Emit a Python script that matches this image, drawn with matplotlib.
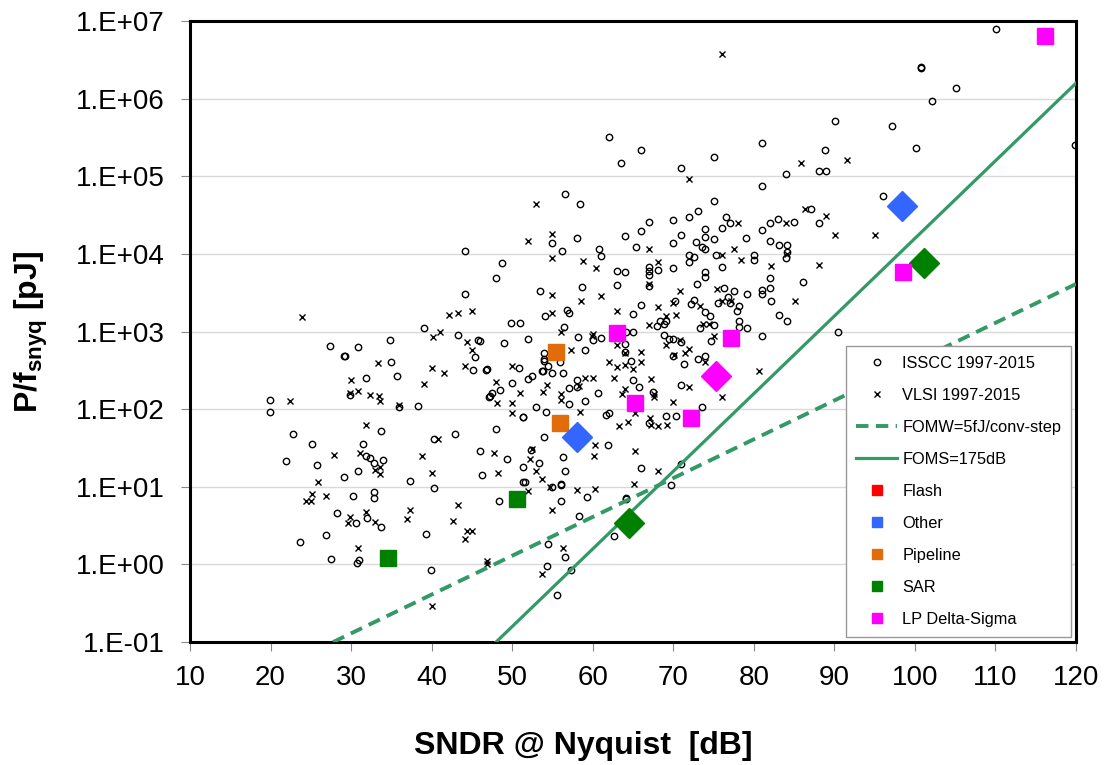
import matplotlib
matplotlib.use("Agg")
import matplotlib.pyplot as plt
from matplotlib.lines import Line2D
from matplotlib.ticker import FuncFormatter, FixedLocator
import numpy as np

plt.rcParams['font.family'] = ['Liberation Sans', 'DejaVu Sans']
plt.rcParams['mathtext.fontset'] = 'custom'
plt.rcParams['mathtext.rm'] = 'Liberation Sans'
plt.rcParams['mathtext.bf'] = 'Liberation Sans:bold'

# ISSCC 1997-2015 (open circles): SNDR [dB], P/fsnyq [pJ]
isscc_sndr = [19.9, 19.9, 22.75, 25.15, 21.9, 25.8, 29.1, 30.2, 28.3, 30.6, 23.7, 26.9, 27.5, 30.7, 31.0,
              39.9, 32.0, 33.7, 39.3, 32.9, 32.9, 30.9, 31.9, 32.4, 32.9, 33.9, 31.5, 33.7, 37.3, 40.3,
              40.3, 42.9, 46.0, 46.3, 27.4, 29.1, 29.3, 30.9, 34.8, 34.9, 31.8, 35.7, 29.9, 36.0, 38.3,
              39.1, 43.3, 45.8, 45.4, 45.1, 46.8, 47.1, 44.1, 44.2,
              66.0, 63.5, 71.0, 75.1, 84.0, 88.1, 89.0, 88.8, 81.0, 56.6, 58.4, 75.0, 73.1, 87.1, 76.5,
              77.0, 72.0, 70.0, 67.0, 74.0, 76.0, 66.0, 81.0, 82.0, 83.0, 85.0, 88.1, 55.0, 58.0, 56.2,
              64.0, 65.4, 70.0, 71.0, 72.8, 74.0, 75.0, 79.0, 82.0, 83.1, 84.1, 84.1, 84.0, 86.1, 80.0,
              80.0, 73.6, 74.0, 75.3, 72.0, 72.0, 72.6, 76.0, 74.0, 74.0, 72.9, 76.3, 77.5, 75.6, 76.8,
              77.0, 78.2, 77.9, 78.2, 78.1, 79.1, 72.6, 72.2, 74.0, 74.6, 75.1, 73.3, 74.7, 74.0, 73.1,
              71.3, 70.9, 73.6, 81.0, 83.1, 84.1, 81.0, 81.0, 82.0, 82.1, 82.0, 79.1, 70.2, 68.3, 69.1,
              68.8, 68.0, 66.0, 65.0, 68.8, 69.5, 70.0, 70.9, 70.0, 70.0, 68.1, 67.0, 67.0, 67.0, 67.0,
              63.0, 64.0, 63.0, 64.1, 65.0, 64.0, 64.0, 64.7, 65.0, 65.7, 67.5, 62.0, 61.6, 67.0, 69.1,
              70.4, 61.9, 66.0, 69.7, 70.9, 64.1, 48.7, 48.0, 60.8, 61.0, 58.7, 53.5, 54.1, 56.8, 57.1,
              49.9, 51.0, 49.0, 52.0, 46.9, 46.0, 48.5, 47.2, 47.5, 50.0, 50.9, 51.3, 52.0, 52.5, 53.7,
              53.8, 53.9, 54.0, 54.0, 55.0, 54.5, 55.9, 56.3, 53.0, 51.4, 48.0, 57.0, 57.1, 54.2, 49.4,
              51.4, 52.3, 53.3, 51.3, 51.6, 53.9, 55.0, 56.0, 56.1, 59.3, 56.6, 56.3, 59.0, 60.0, 61.0,
              56.4, 58.2, 58.0, 58.0, 59.0, 60.6,
              110.1, 100.7, 100.8, 105.1, 102.1, 90.1, 97.1, 100.1, 119.9, 96.1, 90.5, 62.0, 81.0,
              48.4, 56.0, 58.3, 64.1, 62.6, 54.4, 56.6, 54.3, 57.3, 55.6]
isscc_e = [132, 91, 48, 36, 21.4, 19.3, 13.2, 7.6, 4.6, 3.4, 1.93, 2.36, 1.19, 1.05, 1.13,
           0.85, 4.0, 3.0, 2.45, 8.5, 7.1, 16, 24.8, 23.6, 20, 22, 36, 53, 11.9, 9.6,
           41, 48, 29, 14, 645, 487, 487, 630, 780, 410, 250, 266, 151, 107, 110,
           1120, 906, 767, 465, 316, 323, 145, 11000, 3060,
           2.2e5, 1.48e5, 1.28e5, 1.78e5, 1.07e5, 1.18e5, 1.18e5, 2.2e5, 7.4e4, 5.96e4, 4.37e4, 4.75e4, 3.55e4, 3.78e4, 2.98e4,
           2.47e4, 2.95e4, 2.73e4, 2.6e4, 2.1e4, 2.17e4, 2.0e4, 2.06e4, 2.5e4, 2.8e4, 2.57e4, 2.5e4, 1.39e4, 1.6e4, 1.09e4,
           1.68e4, 1.23e4, 1.4e4, 1.76e4, 1.41e4, 1.66e4, 1.55e4, 1.6e4, 1.48e4, 1.3e4, 1.3e4, 1.07e4, 8.9e3, 4.4e3, 9.8e3,
           8.3e3, 1.24e4, 1.15e4, 9.8e3, 9.8e3, 7.9e3, 9.2e3, 6.7e3, 5.9e3, 5.0e3, 4.1e3, 3.6e3, 3.3e3, 2.3e3, 2.75e3,
           2.3e3, 2.15e3, 1.86e3, 1.38e3, 1.13e3, 1.12e3, 2.54e3, 2.24e3, 1.76e3, 1.6e3, 1.22e3, 1.1e3, 750, 487, 440,
           377, 202, 105, 870, 1.62e3, 1.35e3, 3.4e3, 3.0e3, 3.6e3, 2.45e3, 4.9e3, 3.0e3, 2.45e3, 1.38e3, 1.38e3,
           1.24e3, 1.18e3, 2.19e3, 1.66e3, 910, 810, 810, 740, 490, 6.5e3, 6.2e3, 6.7e3, 6.0e3, 5.4e3, 3.8e3,
           6.0e3, 5.9e3, 4.0e3, 1000, 1000, 690, 540, 420, 240, 190, 165, 89, 83, 66, 82,
           82, 34, 17.6, 10.6, 19.5, 7.1, 7.7e3, 4.9e3, 1.15e4, 9.4e3, 3.7e3, 3.3e3, 1.58e3, 1.9e3, 1.74e3,
           1.3e3, 1.3e3, 710, 790, 325, 760, 178, 148, 163, 214, 340, 79, 245, 270, 310,
           310, 446, 420, 525, 295, 355, 405, 295, 107, 79, 56, 186, 115, 91, 23,
           18, 30, 20, 11.5, 11.5, 44, 9.8, 11, 10.5, 7.4, 15.8, 24, 570, 780, 830,
           1150, 850, 240, 195, 128, 162,
           7.95e6, 2.5e6, 2.55e6, 1.38e6, 9.2e5, 5.2e5, 4.5e5, 2.3e5, 2.5e5, 5.6e4, 1000, 3.2e5, 2.7e5,
           6.5, 6.5, 4.2, 6.9, 2.3, 1.82, 1.26, 0.96, 0.84, 0.40]

# VLSI 1997-2015 (crosses)
vlsi_sndr = [23.9, 22.4, 27.9, 25.9, 25.1, 24.4, 25.0, 26.9, 29.9, 29.6, 30.8, 31.9, 33.0, 36.9, 37.3,
             42.7, 43.3, 44.4, 45.0, 44.2, 46.9, 46.9, 33.0, 33.6, 33.6, 31.1, 31.9, 40.0, 38.8, 40.8,
             33.4, 30.0, 29.9, 30.9, 32.3, 33.5, 33.6, 36.0, 39.0, 40.2, 41.0, 42.2, 43.3, 45.0, 44.4,
             45.0, 40.0, 41.5, 44.1,
             72.0, 85.8, 53.0, 86.3, 89.0, 78.0, 84.0, 52.0, 55.0, 67.0, 84.1, 88.1, 78.4, 77.5, 76.0,
             75.4, 76.1, 77.2, 70.8, 73.3, 73.7, 74.4, 75.1, 74.0, 72.0, 71.5, 72.0, 76.0, 80.6, 82.1,
             85.1, 70.0, 70.4, 69.1, 68.1, 67.0, 69.1, 70.1, 70.8, 67.0, 68.1, 63.0, 63.0, 64.0, 64.0,
             63.0, 62.0, 62.6, 66.0, 66.0, 65.0, 67.2, 64.0, 63.6, 67.6, 67.6, 65.2, 64.4, 63.2, 67.1,
             67.2, 68.1, 69.2, 70.0, 65.3, 68.1, 65.1, 55.0, 58.8, 60.4, 55.0, 58.5, 61.0, 55.0, 48.0,
             48.1, 50.0, 51.0, 50.0, 50.0, 54.3, 53.8, 56.1, 47.7, 52.2, 52.4, 48.2, 53.0, 53.7, 54.7,
             52.0, 58.0, 60.3, 60.1, 60.3, 57.3, 60.0, 59.9, 56.0, 59.0, 60.0, 58.3, 58.4, 56.0,
             91.6, 90.1, 95.1, 76.1, 55.0, 56.3, 53.7, 40.0]
vlsi_e = [1535, 126, 26, 11.4, 8.0, 6.5, 6.5, 7.6, 4.1, 3.4, 1.62, 4.7, 3.5, 3.8, 5.0,
          3.6, 5.8, 2.7, 2.7, 2.1, 1.1, 1.0, 16.4, 14.6, 17.8, 27, 62, 15, 25, 41,
          392, 240, 162, 170, 151, 147, 129, 112, 208, 850, 990, 1620, 1740, 1860, 725,
          575, 334, 295, 363,
          9.1e4, 1.48e5, 4.37e4, 3.78e4, 3.1e4, 2.47e4, 2.5e4, 1.48e4, 1.82e4, 1.15e4, 1.0e4, 7.2e3, 8.3e3, 1.17e4, 9.8e3,
          3.5e3, 2.5e3, 2.5e3, 3.3e3, 2.14e3, 1.26e3, 1.24e3, 880, 400, 590, 525, 194, 143, 310, 6.9e3,
          2.45e3, 2.3e3, 1.64e3, 1.58e3, 2.08e3, 1.2e3, 680, 500, 780, 4.1e3, 7.9e3, 1.86e3, 680, 525, 370,
          345, 400, 250, 540, 410, 330, 245, 182, 155, 143, 155, 89, 68, 60, 78,
          63, 60, 62, 124, 29, 16, 10.7, 8.9e3, 8.0e3, 6.6e3, 2.96e3, 2.47e3, 2.9e3, 1.74e3, 224,
          120, 355, 162, 120, 89, 204, 166, 158, 27, 23, 31, 15, 16, 12.5, 10,
          8.7, 9.2, 9.3, 25, 34, 570, 930, 870, 980, 250, 250, 200, 91, 130,
          1.6e5, 1.74e4, 1.74e4, 3.8e6, 5.0, 1.62, 0.76, 0.29]

# highlighted designs: squares and diamonds per architecture
sar_sq_sndr, sar_sq_e = [34.6, 50.6], [1.2, 6.9]
sar_dia_sndr, sar_dia_e = [64.5, 101.1], [3.4, 7590]
pipe_sq_sndr, pipe_sq_e = [55.4, 55.9], [543, 67]
other_dia_sndr, other_dia_e = [58.0, 98.4], [43.7, 41300]
lpds_sq_sndr = [63.0, 65.2, 72.2, 77.2, 98.5, 116.2]
lpds_sq_e = [955, 119, 76.6, 822, 5820, 6.4e6]
lpds_dia_sndr, lpds_dia_e = [75.3], [266]

# figure-of-merit reference lines
foms_db = 175.0
fomw_j = 5e-15

c_line = '#339966'
c_flash, c_other, c_pipe, c_sar, c_lpds = '#FF0000', '#3366FF', '#E36C0A', '#008000', '#FF00FF'

fig = plt.figure(figsize=(11.07, 7.65), dpi=100)
ax = fig.add_axes([190/1107, 1-642/765, (1076-190)/1107, (642-21)/765])

ax.plot(isscc_sndr, isscc_e, 'o', mfc='none', mec='black', ms=4.6, mew=1.0, ls='none', zorder=3)
ax.plot(vlsi_sndr, vlsi_e, 'x', color='black', ms=4.2, mew=1.0, ls='none', zorder=3)

x = np.linspace(10, 120, 400)
ax.plot(x, 1e12 * 10**((x - foms_db)/10) / 2, color=c_line, lw=2.3, zorder=4)
ax.plot(x, 1e12 * fomw_j * 2**((x - 1.76)/6.02), color=c_line, lw=2.8, ls=(0, (3.2, 1.9)), zorder=4)

ax.plot(sar_sq_sndr, sar_sq_e, 's', color=c_sar, ms=11, ls='none', zorder=5)
ax.plot(sar_dia_sndr, sar_dia_e, 'D', color=c_sar, ms=15, ls='none', zorder=5)
ax.plot(pipe_sq_sndr, pipe_sq_e, 's', color=c_pipe, ms=11, ls='none', zorder=5)
ax.plot(other_dia_sndr, other_dia_e, 'D', color=c_other, ms=15, ls='none', zorder=5)
ax.plot(lpds_sq_sndr, lpds_sq_e, 's', color=c_lpds, ms=11, ls='none', zorder=5)
ax.plot(lpds_dia_sndr, lpds_dia_e, 'D', color=c_lpds, ms=15, ls='none', zorder=5)

ax.set_yscale('log')
ax.set_xlim(10, 120)
ax.set_ylim(0.1, 1e7)
ax.xaxis.set_major_locator(FixedLocator(np.arange(10, 121, 10)))
ax.yaxis.set_major_locator(FixedLocator([10.0**k for k in range(-1, 8)]))
ax.yaxis.set_minor_locator(FixedLocator([]))
ax.yaxis.set_major_formatter(FuncFormatter(lambda v, p: "1.E%+03d" % int(round(np.log10(v)))))
ax.grid(axis='y', color='#d9d9d9', lw=1.0, zorder=0)
ax.set_axisbelow(True)
ax.tick_params(axis='both', labelsize=20, length=6.5, width=0.8, color='#888888')
ax.tick_params(axis='y', pad=12)
ax.tick_params(axis='x', pad=10)
for s in ax.spines.values():
    s.set_linewidth(2.2)
    s.set_color('black')

ax.set_xlabel("SNDR @ Nyquist  [dB]", fontsize=23, fontweight='bold')
ax.xaxis.set_label_coords(0.4436, -0.143)
ax.set_ylabel(r"P/f$_{\mathbf{snyq}}$ [pJ]", fontsize=23, fontweight='bold', labelpad=18)

handles = [
    Line2D([], [], marker='o', mfc='none', mec='black', ms=4.6, mew=1.0, ls='none'),
    Line2D([], [], marker='x', color='black', ms=4.2, mew=1.0, ls='none'),
    Line2D([], [], color=c_line, lw=2.8, ls=(0, (3.2, 1.9))),
    Line2D([], [], color=c_line, lw=2.3),
    Line2D([], [], marker='s', color=c_flash, ms=7, ls='none'),
    Line2D([], [], marker='s', color=c_other, ms=7, ls='none'),
    Line2D([], [], marker='s', color=c_pipe, ms=7, ls='none'),
    Line2D([], [], marker='s', color=c_sar, ms=7, ls='none'),
    Line2D([], [], marker='s', color=c_lpds, ms=7, ls='none'),
]
labels = ["ISSCC 1997-2015", "VLSI 1997-2015", "FOMW=5fJ/conv-step", "FOMS=175dB",
          "Flash", "Other", "Pipeline", "SAR", "LP Delta-Sigma"]
leg = ax.legend(handles, labels, loc='lower right', bbox_to_anchor=(0.9944, 0.008),
                fontsize=11.8, frameon=True, fancybox=False, framealpha=1,
                edgecolor='#999999', handlelength=2.5, handletextpad=0.3,
                labelspacing=1.04, borderpad=0.6, borderaxespad=0)
leg.get_frame().set_linewidth(1.0)
leg.set_zorder(10)

fig.savefig("out.png", dpi=100)
